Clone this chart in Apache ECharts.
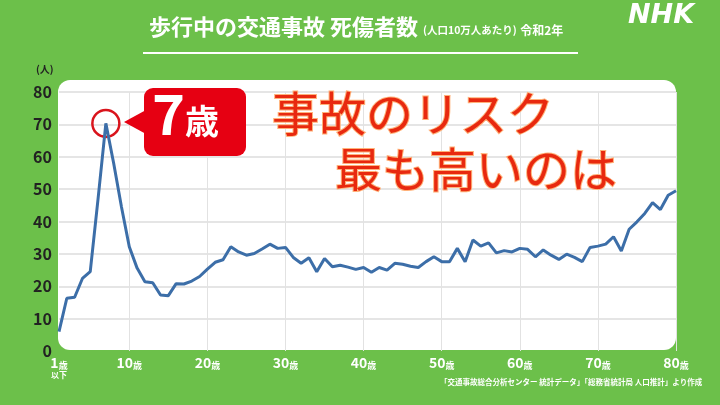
<!DOCTYPE html>
<html><head><meta charset="utf-8">
<script src="https://cdn.jsdelivr.net/npm/echarts@6/dist/echarts.min.js"></script>
<style>html,body{margin:0;padding:0;background:#6cc04a;}#c{width:720px;height:405px;}</style>
</head><body><div id="c"></div>
<script>
const ages = Array.from({length:80},(_,i)=>String(i+1));
const casualties = [6,16.3,16.6,22.4,24.5,47,70.3,58,44.5,32.2,
 25.6,21.4,21.1,17.3,17.1,20.8,20.7,21.6,23,25.3,
 27.4,28.2,32.2,30.6,29.6,30.1,31.5,33,31.7,32,
 28.9,27.1,28.8,24.5,28.6,26,26.5,25.9,25.2,25.8,
 24.3,25.8,25,27.1,26.8,26.2,25.8,27.6,29.1,27.6,
 27.6,31.7,27.6,34.3,32.4,33.4,30.3,31,30.6,31.7,
 31.4,29.1,31.2,29.6,28.3,29.9,28.9,27.6,32,32.4,
 33,35.3,30.9,37.6,39.9,42.5,45.8,43.7,48.1,49.5];
const yTicks = [0,10,20,30,40,50,60,70,80];
const peakAge = '7';
const titleMain = '歩行中の交通事故 死傷者数';
const titleSub = '(人口10万人あたり)';
const titleYear = '令和2年';
const headline1 = '事故のリスク';
const headline2 = '最も高いのは';
const footnote = '「交通事故総合分析センター 統計データ」「総務省統計局 人口推計」より作成';

const F = '"Noto Sans CJK JP", "Noto Sans", sans-serif';
const chart = echarts.init(document.getElementById('c'));
const peakVal = casualties[ages.indexOf(peakAge)];
chart.setOption({
  backgroundColor: '#6cc04a',
  animation: false,
  grid: {left: 59, right: 44, top: 92, bottom: 54},
  xAxis: {
    type: 'category', data: ages, boundaryGap: false,
    axisLine: {show: false}, axisTick: {show: false},
    splitLine: {show: true, interval: (i)=> (i+1)%10===0, lineStyle: {color: '#e2e2e2', width: 1}},
    axisLabel: {
      interval: (i)=> i===0 || (i+1)%10===0,
      margin: 5,
      formatter: (v, i)=> i===0 ? '{n|1}{s|歳}\n{t|以下}' : '{n|'+v+'}{s|歳}',
      rich: {
        n: {fontSize: 14, fontWeight: 'bold', color: '#fff', fontFamily: F},
        s: {fontSize: 9, fontWeight: 'bold', color: '#fff', fontFamily: F, verticalAlign: 'bottom', padding:[3,0,0,0]},
        t: {fontSize: 8, fontWeight: 'bold', color: '#fff', fontFamily: F, lineHeight: 9}
      }
    }
  },
  yAxis: {
    type: 'value', min: 0, max: 80, interval: 10,
    axisLine: {show: false}, axisTick: {show: false},
    splitLine: {lineStyle: {color: ['rgba(0,0,0,0)','#dcdcdc','#dcdcdc','#dcdcdc','#dcdcdc','#dcdcdc','#dcdcdc','#dcdcdc','#dcdcdc'], width: 1.5}},
    axisLabel: {margin: 7, color: '#222', fontSize: 16, fontWeight: 'bold', fontFamily: F,
      formatter: (v)=> yTicks.includes(v) ? String(v) : ''}
  },
  series: [{
    type: 'line', data: casualties, symbol: 'none', z: 5,
    lineStyle: {color: '#3c6ea8', width: 3},
    markPoint: {
      silent: true,
      symbol: 'circle', symbolSize: 27,
      itemStyle: {color: 'rgba(0,0,0,0)', borderColor: '#d9141c', borderWidth: 2.5},
      label: {show: false},
      data: [{coord: [peakAge, peakVal]}]
    }
  }],
  graphic: [
    {type: 'rect', z: -10, shape: {x: 58, y: 80, width: 618, height: 270, r: 12}, style: {fill: '#fff'}},
    {type: 'text', z: 10, left: 149, top: 16, style: {
      text: '{m|'+titleMain+'}{s|'+titleSub+'} {y|'+titleYear+'}',
      rich: {
        m: {fontSize: 22, fontWeight: 'bold', fill: '#fff', fontFamily: F},
        s: {fontSize: 10.5, fontWeight: 'bold', fill: '#fff', fontFamily: F, padding:[7,0,0,5]},
        y: {fontSize: 12, fontWeight: 'bold', fill: '#fff', fontFamily: F, padding:[6,0,0,0]}
      }}},
    {type: 'line', z: 10, shape: {x1: 143, y1: 53, x2: 578, y2: 53}, style: {stroke: '#fff', lineWidth: 2}},
    {type: 'text', z: 10, left: 628, top: 2, style: {text: 'NHK', fill: '#fff', font: 'italic bold 27px "DejaVu Sans", sans-serif'}},
    {type: 'text', z: 10, left: 36, top: 64, style: {text: '(人)', fill: '#222', font: 'bold 10px '+F}},
    {type: 'polygon', z: 20, shape: {points: [[146,110],[124,122],[146,134]]}, style: {fill: '#e60012'}},
    {type: 'rect', z: 20, shape: {x: 144, y: 88, width: 102, height: 68, r: 9}, style: {fill: '#e60012'}},
    {type: 'text', z: 21, left: 152, top: 86, style: {
      text: '{a|7}{b|歳}',
      rich: {a: {fontSize: 56, fontWeight: 'bold', fill: '#fff', fontFamily: F},
             b: {fontSize: 34, fontWeight: 'bold', fill: '#fff', fontFamily: F, padding:[14,0,0,0]}}}},
    {type: 'text', z: 21, left: 271, top: 89, style: {text: headline1, fill: '#e8290f', font: 'normal 47px '+F,
      stroke: '#ffb27a', lineWidth: 2, shadowColor: '#f08a4b', shadowOffsetX: 2, shadowOffsetY: 2}},
    {type: 'text', z: 21, left: 334, top: 145, style: {text: headline2, fill: '#e8290f', font: 'normal 47px '+F,
      stroke: '#ffb27a', lineWidth: 2, shadowColor: '#f08a4b', shadowOffsetX: 2, shadowOffsetY: 2}},
    {type: 'text', z: 10, left: 440, top: 378, style: {text: footnote, fill: '#fff', font: 'bold 7.5px '+F}}
  ]
});
</script></body></html>
